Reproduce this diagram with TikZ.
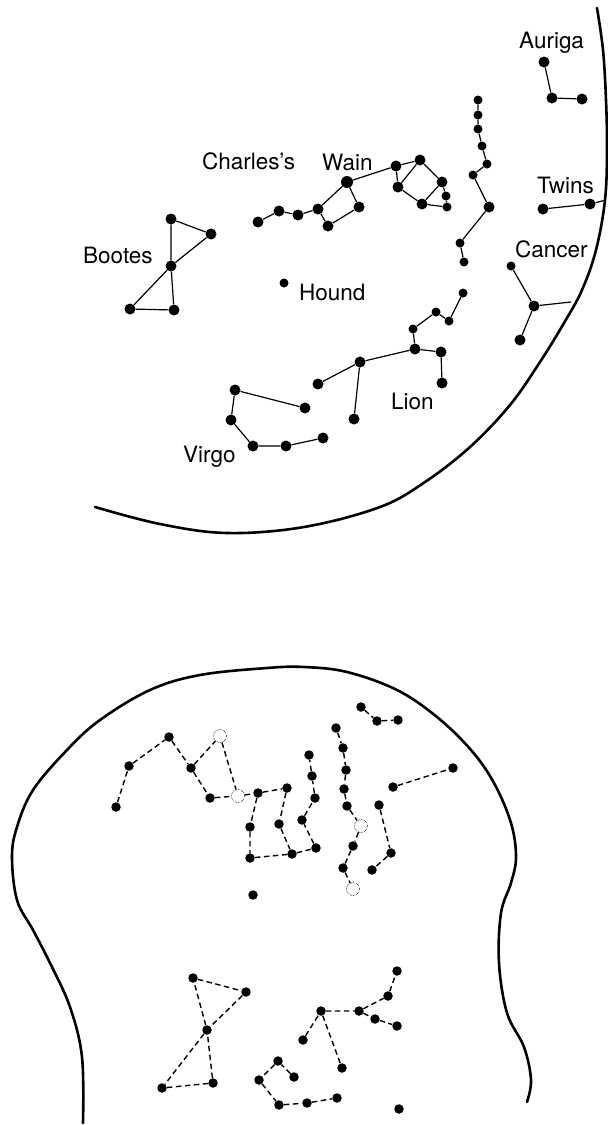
\documentclass[tikz,border=0pt]{standalone}
\usepackage{fontspec}
\setmainfont{TeX Gyre Heros}
\begin{document}
\begin{tikzpicture}[x=1pt,y=-1pt,
  dot/.style={circle,fill=black,inner sep=0pt,minimum size=11pt},
  sdot/.style={dot,minimum size=9pt},
  bdot/.style={dot,minimum size=9.5pt},
  ghost/.style={circle,draw=black,densely dotted,line width=0.6pt,inner sep=0pt,minimum size=13pt},
  link/.style={line width=1.2pt},
  dlink/.style={line width=1.4pt,dash pattern=on 5.5pt off 3.5pt},
  rim/.style={line width=2.6pt,line cap=round,line join=round},
  lbl/.style={anchor=base west,inner sep=0pt,font=\fontsize{22.5}{26}\selectfont}]
\useasboundingbox (0,0) rectangle (608,1125);

% ---------------- upper chart: the spring sky ----------------
\draw[rim] plot[smooth,tension=0.6] coordinates {
  (597,8) (603,50) (606,100) (607,150) (605,200) (596,250) (582,290) (564,323)
  (540,362) (510,405) (470,447) (425,482) (380,507) (304,527) (227,533)
  (160,524) (95,507)};

% labels
\node[lbl] (tCharles) at (202,169) {Charles's};
\node[lbl] (tWain)    at (322,170) {Wain};
\node[lbl] (tAuriga)  at (519,48)  {Auriga};
\node[lbl] (tTwins)   at (537,193) {Twins};
\node[lbl] (tCancer)  at (515,257) {Cancer};
\node[lbl] (tBootes)  at (83,263)  {Bootes};
\node[lbl] (tHound)   at (299,300) {Hound};
\node[lbl] (tLion)    at (391,409) {Lion};
\node[lbl] (tVirgo)   at (183,462) {Virgo};

% Bootes
\node[dot] (bo1) at (171,219) {};
\node[dot] (bo2) at (211,234) {};
\node[dot] (bo3) at (171,266) {};
\node[dot] (bo4) at (130,309) {};
\node[dot] (bo5) at (174,310) {};
\draw[link] (bo1) -- (bo2) -- (bo3) -- (bo4) -- (bo5) -- (bo3) -- (bo1);

% Charles's Wain
\node[dot] (w1) at (258,222) {};
\node[dot] (w2) at (279,211) {};
\node[dot] (w3) at (298,215) {};
\node[dot] (w4) at (318,209) {};
\node[dot,minimum size=12pt] (w5) at (347,182) {};
\node[dot] (w6) at (359,207) {};
\node[dot] (w7) at (328,226) {};
\draw[link] (w1) -- (w2) -- (w3) -- (w4) -- (w5) -- (w6) -- (w7) -- (w4);

% the little wain
\node[dot] (lw1) at (396,166) {};
\node[dot] (lw2) at (420,160) {};
\node[dot] (lw3) at (398,187) {};
\node[dot] (lw4) at (422,204) {};
\node[dot] (lw5) at (442,182) {};
\node[sdot] (lw6) at (446,196) {};
\node[sdot] (lw7) at (447,207) {};
\draw[link] (w5) -- (lw1);
\draw[link] (lw1) -- (lw2) -- (lw5) -- (lw6) -- (lw7) -- (lw4) -- (lw3) -- (lw1);
\draw[link] (lw2) -- (lw3);
\draw[link] (lw4) -- (lw5);

% the long chain
\node[sdot] (ch1) at (478,100) {};
\node[sdot] (ch2) at (478,115) {};
\node[sdot] (ch3) at (478,129) {};
\node[sdot] (ch4) at (482,146) {};
\node[sdot] (ch5) at (487,164) {};
\node[sdot] (ch6) at (473,175) {};
\node[dot]  (ch7) at (489,207) {};
\node[sdot] (ch8) at (460,243) {};
\node[sdot] (ch9) at (464,262) {};
\draw[link] (ch1) -- (ch2) -- (ch3) -- (ch4) -- (ch5) -- (ch6) -- (ch7) -- (ch8) -- (ch9);

% Auriga
\node[dot] (au1) at (544,62) {};
\node[dot] (au2) at (552,98) {};
\node[dot] (au3) at (582,99) {};
\draw[link] (au1) -- (au2) -- (au3);

% Twins
\node[dot] (tw1) at (543,209) {};
\node[dot] (tw2) at (590,204) {};
\coordinate (tw0) at (606,200);
\draw[link] (tw1) -- (tw2) -- (tw0);

% Cancer
\node[sdot] (ca1) at (511,266) {};
\node[dot]  (ca2) at (534,306) {};
\node[dot]  (ca3) at (520,340) {};
\coordinate (ca0) at (571,302);
\draw[link] (ca1) -- (ca2) -- (ca3);
\draw[link] (ca2) -- (ca0);

% Hound
\node[sdot] (ho) at (284,283) {};

% Lion
\node[sdot] (li1) at (463,293) {};
\node[sdot] (li2) at (449,321) {};
\node[sdot] (li3) at (436,312) {};
\node[sdot] (li4) at (413,329) {};
\node[dot]  (li5) at (415,349) {};
\node[dot]  (li6) at (441,352) {};
\node[dot]  (li7) at (442,383) {};
\node[dot]  (li8) at (360,362) {};
\node[dot]  (li9) at (318,384) {};
\node[dot]  (li10) at (354,419) {};
\draw[link] (li1) -- (li2) -- (li3) -- (li4) -- (li5) -- (li6) -- (li7);
\draw[link] (li5) -- (li8) -- (li9);
\draw[link] (li8) -- (li10);

% Virgo
\node[dot] (vi1) at (305,408) {};
\node[dot] (vi2) at (235,390) {};
\node[dot] (vi3) at (231,420) {};
\node[dot] (vi4) at (253,446) {};
\node[dot] (vi5) at (286,446) {};
\node[dot] (vi6) at (323,438) {};
\draw[link] (vi1) -- (vi2) -- (vi3) -- (vi4) -- (vi5) -- (vi6);

% ---------------- lower chart: the head outline ----------------
\draw[rim] plot[smooth,tension=0.6] coordinates {
  (83,1123) (82,1057) (70,1007) (50,963) (33,930) (17,900) (12,857) (17,827)
  (33,790) (67,750) (100,720) (150,690) (200,675) (267,668) (304,667)
  (347,672) (397,690) (437,717) (471,750) (494,783) (511,823) (516,857)
  (511,883) (501,913) (499,963) (507,1013) (524,1047) (531,1080) (527,1102)};

% upper figure
\node[bdot] (b1) at (116,807) {};
\node[bdot] (b2) at (129,766) {};
\node[bdot] (b3) at (169,737) {};
\node[bdot] (b4) at (191,768) {};
\node[bdot] (b5) at (210,798) {};
\node[ghost] (g1) at (220,736) {};
\node[ghost] (g2) at (238,796) {};
\node[bdot] (b6) at (258,793) {};
\node[bdot] (b7) at (287,788) {};
\node[bdot] (b8) at (250,827) {};
\node[bdot] (b9) at (279,824) {};
\node[bdot] (b10) at (250,858) {};
\node[bdot] (b11) at (292,854) {};
\node[bdot] (b12) at (316,848) {};
\node[bdot] (b13) at (302,820) {};
\node[bdot] (b14) at (315,798) {};
\node[bdot] (b15) at (312,776) {};
\node[bdot] (b16) at (309,755) {};
\draw[dlink] (b1) -- (b2) -- (b3) -- (b4) -- (b5) -- (g2);
\draw[dlink] (b4) -- (g1) -- (g2) -- (b6) -- (b7);
\draw[dlink] (b6) -- (b8) -- (b10) -- (b11);
\draw[dlink] (b7) -- (b9) -- (b11) -- (b12) -- (b13) -- (b14) -- (b15) -- (b16);

% the chain with two faint stars
\node[bdot] (c1) at (336,728) {};
\node[bdot] (c2) at (343,748) {};
\node[bdot] (c3) at (346,770) {};
\node[bdot] (c4) at (344,789) {};
\node[bdot] (c5) at (347,806) {};
\node[ghost] (g3) at (361,826) {};
\node[bdot] (c6) at (353,846) {};
\node[bdot] (c7) at (343,868) {};
\node[ghost] (g4) at (353,889) {};
\draw[dlink] (c1) -- (c2) -- (c3) -- (c4) -- (c5) -- (g3) -- (c6) -- (c7) -- (g4);

\node[bdot] (d1) at (361,707) {};
\node[bdot] (d2) at (377,721) {};
\node[bdot] (d3) at (398,720) {};
\draw[dlink] (d1) -- (d2) -- (d3);

\node[bdot] (e1) at (393,787) {};
\node[bdot] (e2) at (453,768) {};
\draw[dlink] (e1) -- (e2);

\node[bdot] (f1) at (379,805) {};
\node[bdot] (f2) at (391,853) {};
\node[bdot] (f3) at (372,870) {};
\draw[dlink] (f1) -- (f2) -- (f3);

\node[bdot] (o1) at (253,895) {};

% bow tie
\node[bdot] (h1) at (193,978) {};
\node[bdot] (h2) at (246,992) {};
\node[bdot] (h3) at (207,1030) {};
\node[bdot] (h4) at (162,1088) {};
\node[bdot] (h5) at (213,1083) {};
\draw[dlink] (h1) -- (h2) -- (h3) -- (h4) -- (h5) -- (h3) -- (h1);

% lower left figure
\node[bdot] (v1) at (278,1061) {};
\node[bdot] (v2) at (294,1077) {};
\node[bdot] (v3) at (259,1080) {};
\node[bdot] (v4) at (279,1105) {};
\node[bdot] (v5) at (307,1103) {};
\node[bdot] (v6) at (337,1098) {};
\draw[dlink] (v2) -- (v1) -- (v3) -- (v4) -- (v5) -- (v6);

% lower right figure
\node[bdot] (l1) at (303,1040) {};
\node[bdot] (l2) at (321,1011) {};
\node[bdot] (l3) at (342,1068) {};
\node[bdot] (l4) at (359,1011) {};
\node[bdot] (l5) at (388,996) {};
\node[bdot] (l6) at (397,971) {};
\node[bdot] (l7) at (375,1019) {};
\node[bdot] (l8) at (397,1026) {};
\draw[dlink] (l1) -- (l2) -- (l3);
\draw[dlink] (l2) -- (l4) -- (l5) -- (l6);
\draw[dlink] (l4) -- (l7) -- (l8);

\node[bdot] (o2) at (399,1109) {};
\end{tikzpicture}
\end{document}
